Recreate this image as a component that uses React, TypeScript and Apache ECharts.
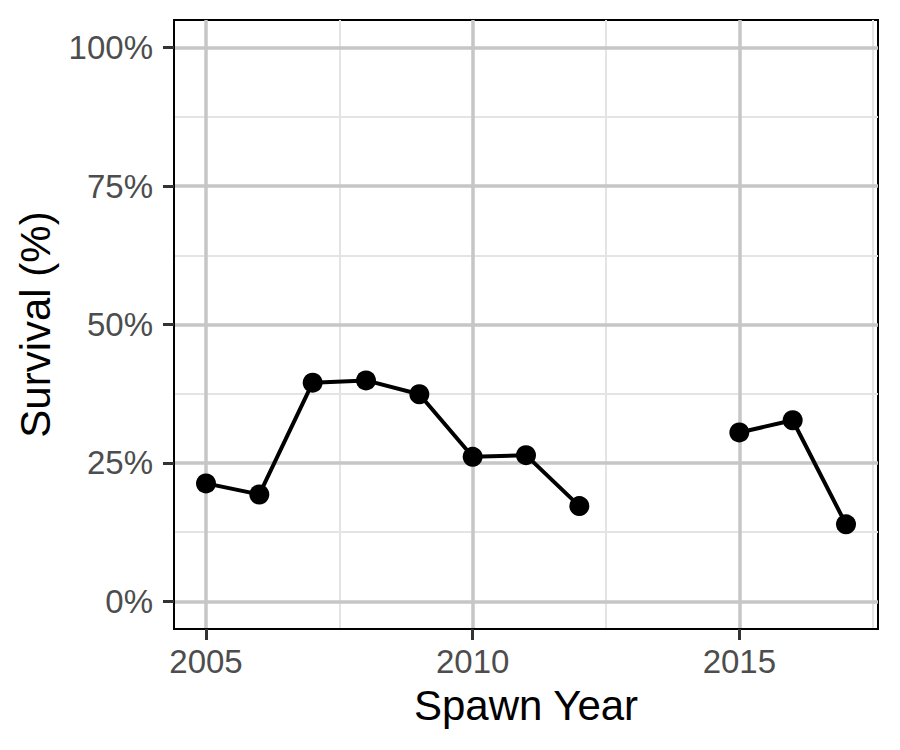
import React, { useEffect, useRef } from "react";
import * as echarts from "echarts";

const years = [2005, 2006, 2007, 2008, 2009, 2010, 2011, 2012, 2013, 2014, 2015, 2016, 2017];
const survival: (number | null)[] = [21.3, 19.3, 39.5, 39.9, 37.4, 26.1, 26.4, 17.2, null, null, 30.5, 32.7, 13.9];
const xTicks = [2005, 2010, 2015];
const xMinor = [2007.5, 2012.5, 2017.5];
const yTicks = [0, 25, 50, 75, 100];
const yMinor = [12.5, 37.5, 62.5, 87.5];

const FONT = "'Liberation Sans', Arial, sans-serif";

export default function App() {
  const ref = useRef<HTMLDivElement>(null);
  useEffect(() => {
    document.body.style.margin = "0";
    if (!ref.current) return;
    const chart = echarts.init(ref.current, undefined, { renderer: "svg" });
    const major = { color: "#C6C6C6", width: 3.5, type: "solid" as const };
    const minor = { color: "#E4E4E4", width: 2, type: "solid" as const };
    const gridLine = (lines: any[], z: number) => ({
      type: "line",
      data: [],
      z,
      silent: true,
      markLine: {
        silent: true,
        symbol: ["none", "none"],
        label: { show: false },
        emphasis: { disabled: true },
        animation: false,
        data: lines,
      },
    });
    const option: any = {
      animation: false,
      backgroundColor: "#ffffff",
      grid: {
        left: 174,
        right: 22,
        top: 20,
        bottom: 121,
        containLabel: false,
        show: true,
        borderColor: "#000",
        borderWidth: 2,
        backgroundColor: "#fff",
      },
      xAxis: {
        type: "value",
        min: 2004.4,
        max: 2017.6,
        z: 10,
        name: "Spawn Year",
        nameLocation: "middle",
        nameGap: 55,
        nameTextStyle: { fontFamily: FONT, fontSize: 42, color: "#000" },
        axisLine: { show: true, onZero: false, lineStyle: { color: "#000", width: 2 } },
        axisTick: { show: true, customValues: xTicks, length: 11, lineStyle: { color: "#333", width: 3 } },
        axisLabel: {
          customValues: xTicks,
          margin: 16,
          fontFamily: FONT,
          fontSize: 33,
          color: "#4D4D4D",
          formatter: (v: number) => String(v),
        },
        splitLine: { show: false },
      },
      yAxis: {
        type: "value",
        min: -5,
        max: 105,
        z: 10,
        name: "Survival (%)",
        nameLocation: "middle",
        nameGap: 118,
        nameTextStyle: { fontFamily: FONT, fontSize: 42, color: "#000" },
        axisLine: { show: true, onZero: false, lineStyle: { color: "#000", width: 2 } },
        axisTick: { show: true, customValues: yTicks, length: 11, lineStyle: { color: "#333", width: 3 } },
        axisLabel: {
          customValues: yTicks,
          margin: 21,
          fontFamily: FONT,
          fontSize: 33,
          color: "#4D4D4D",
          formatter: (v: number) => v + "%",
        },
        splitLine: { show: false },
      },
      series: [
        gridLine(
          [
            ...xMinor.map((v) => ({ xAxis: v, lineStyle: minor })),
            ...yMinor.map((v) => ({ yAxis: v, lineStyle: minor })),
          ],
          1
        ),
        gridLine(
          [
            ...xTicks.map((v) => ({ xAxis: v, lineStyle: major })),
            ...yTicks.map((v) => ({ yAxis: v, lineStyle: major })),
          ],
          2
        ),
        {
          type: "line",
          z: 5,
          data: years.map((y, i) => [y, survival[i]]),
          connectNulls: false,
          symbol: "circle",
          symbolSize: 20,
          showAllSymbol: true,
          itemStyle: { color: "#000" },
          lineStyle: { color: "#000", width: 4 },
          emphasis: { disabled: true },
        },
      ],
    };
    chart.setOption(option);
    return () => chart.dispose();
  }, []);
  return <div ref={ref} style={{ width: 900, height: 750 }} />;
}
